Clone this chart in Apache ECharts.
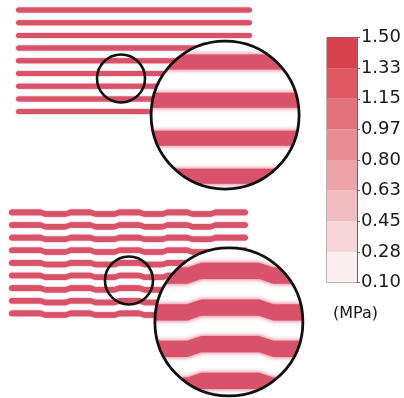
<!DOCTYPE html>
<html><head><meta charset="utf-8">
<script src="https://cdn.jsdelivr.net/npm/echarts@6/dist/echarts.min.js"></script>
<style>html,body{margin:0;padding:0;background:#fff}#c{width:404px;height:398px}</style>
</head><body><div id="c"></div>
<script>
// ---------------- data ----------------
// straight filaments (top panel): row index, span along length (0-100 %)
const topRows = [0, 1, 2, 3, 4, 5, 6, 7, 8];
const topSpan = [0, 100];
// segmented filaments (bottom panel)
const bottomRows = [0, 1, 2, 3, 4, 5, 6, 7, 8];
const bottomBreaks = [0, 14.2, 24.7, 35.1, 45.2, 55.6, 65.3, 75.7, 85.4, 100];
const bottomShift = [-0.07, 0.06, -0.07, 0.06, -0.07, 0.06, -0.07, 0.06, -0.07];
// magnifier: source centre, target centre (data units), zoom factor
const topLensSrc = [44.5, 5.39];
const topLensDst = [88.6, 8.27];
const topLensZoom = 3.0;
const bottomLensSrc = [50.2, 5.32];
const bottomLensDst = [92.0, 8.6];
const bottomLensZoom = 2.9;
// colour scale
const scaleTicks = ['0.10', '0.28', '0.45', '0.63', '0.80', '0.97', '1.15', '1.33', '1.50'];
const scaleColors = ['#fcefef', '#f7d6d9', '#f1bdc1', '#eca4aa', '#e88b93', '#e3717b', '#de5964', '#d8424d'];

// ---------------- styles ----------------
const STRIPE = '#d8536a';
const T_TOP = 5, T_BOT = 5.6;
const R_SMALL = 24, R_BIG = 74;
const JOINT = 2.4; // px half-width of the transition between segments

function cap(cx, cy, h, from, to) {
  const pts = [];
  for (let s = 0; s <= 8; s++) {
    const t = (from + (to - from) * s / 8) * Math.PI / 180;
    pts.push([cx + h * Math.cos(t), cy + h * Math.sin(t)]);
  }
  return pts;
}
// centre-line nodes [[x, y], ...] -> outline polygon with round caps
function outline(nodes, h) {
  const n = nodes.length;
  const topPts = nodes.map(p => [p[0], p[1] - h]);
  const botPts = nodes.map(p => [p[0], p[1] + h]).reverse();
  return topPts.concat(cap(nodes[n - 1][0], nodes[n - 1][1], h, -90, 90), botPts, cap(nodes[0][0], nodes[0][1], h, 90, 270));
}
function topPoly(api, r) {
  const p0 = api.coord([topSpan[0], r]), p1 = api.coord([topSpan[1], r]);
  const h = T_TOP / 2;
  return outline([[p0[0] + h, p0[1]], [p1[0] - h, p1[1]]], h);
}
function bottomPoly(api, r) {
  const h = T_BOT / 2, n = bottomBreaks.length - 1;
  const nodes = [];
  for (let i = 0; i < n; i++) {
    const a = api.coord([bottomBreaks[i], r + bottomShift[i]]);
    const b = api.coord([bottomBreaks[i + 1], r + bottomShift[i]]);
    nodes.push([i === 0 ? a[0] + h : a[0] + JOINT, a[1]]);
    nodes.push([i === n - 1 ? b[0] - h : b[0] - JOINT, b[1]]);
  }
  return outline(nodes, h);
}
function stripeEl(points, blur) {
  return {type: 'polygon', shape: {points: points}, style: {fill: STRIPE, shadowBlur: blur, shadowColor: STRIPE}};
}
function lensGroup(api, src, dst, k, polys) {
  const S = api.coord(src), D = api.coord(dst);
  const kids = polys.map(pts => stripeEl(pts.map(p => [D[0] + (p[0] - S[0]) * k, D[1] + (p[1] - S[1]) * k]), 5));
  return {
    type: 'group',
    children: [
      {type: 'circle', shape: {cx: S[0], cy: S[1], r: R_SMALL}, style: {fill: 'none', stroke: '#111', lineWidth: 2.6}},
      {type: 'circle', shape: {cx: D[0], cy: D[1], r: R_BIG}, style: {fill: '#fff'}},
      {type: 'group', children: kids, clipPath: {type: 'circle', shape: {cx: D[0], cy: D[1], r: R_BIG}}},
      {type: 'circle', shape: {cx: D[0], cy: D[1], r: R_BIG}, style: {fill: 'none', stroke: '#111', lineWidth: 2.8}}
    ]
  };
}

const chart = echarts.init(document.getElementById('c'), null, {renderer: 'canvas'});
const hiddenX = {type: 'value', min: 0, max: 100, show: false};
const hiddenY = {type: 'value', min: 0, max: 8, inverse: true, show: false};

chart.setOption({
  animation: false,
  backgroundColor: '#fff',
  grid: [
    {left: 16, top: 10, width: 236, height: 101.6},
    {left: 9, top: 213.3, width: 239, height: 101},
    {left: 327, top: 37.5, width: 30, height: 245, show: true, borderColor: '#6a6a6a', borderWidth: 1, backgroundColor: 'transparent'}
  ],
  xAxis: [
    Object.assign({gridIndex: 0}, hiddenX),
    Object.assign({gridIndex: 1}, hiddenX),
    {gridIndex: 2, type: 'category', data: [''], show: false}
  ],
  yAxis: [
    Object.assign({gridIndex: 0}, hiddenY),
    Object.assign({gridIndex: 1}, hiddenY),
    {
      gridIndex: 2, type: 'value', min: 0, max: 8, interval: 1, position: 'right',
      name: '(MPa)', nameLocation: 'start', nameGap: 31,
      nameTextStyle: {fontFamily: 'DejaVu Sans', fontSize: 16, color: '#1a1a1a', align: 'center', verticalAlign: 'middle', padding: [0, 3, 0, 0]},
      axisLine: {show: true, lineStyle: {color: '#6a6a6a', width: 1}},
      axisTick: {show: true, inside: false, length: 3, lineStyle: {color: '#6a6a6a'}},
      splitLine: {show: false},
      axisLabel: {margin: 4, fontFamily: 'DejaVu Sans', fontSize: 18, color: '#1a1a1a', formatter: v => scaleTicks[v]}
    }
  ],
  series: [
    {
      type: 'custom', xAxisIndex: 0, yAxisIndex: 0, clip: false, z: 1,
      data: topRows.map(r => [r]),
      renderItem: (params, api) => stripeEl(topPoly(api, api.value(0)), 1.5)
    },
    {
      type: 'custom', xAxisIndex: 1, yAxisIndex: 1, clip: false, z: 1,
      data: bottomRows.map(r => [r]),
      renderItem: (params, api) => stripeEl(bottomPoly(api, api.value(0)), 1.5)
    },
    {
      type: 'custom', xAxisIndex: 0, yAxisIndex: 0, clip: false, z: 3,
      data: [[0]],
      renderItem: (params, api) => lensGroup(api, topLensSrc, topLensDst, topLensZoom, topRows.map(r => topPoly(api, r)))
    },
    {
      type: 'custom', xAxisIndex: 1, yAxisIndex: 1, clip: false, z: 3,
      data: [[0]],
      renderItem: (params, api) => lensGroup(api, bottomLensSrc, bottomLensDst, bottomLensZoom, bottomRows.map(r => bottomPoly(api, r)))
    }
  ].concat(scaleColors.map(c => ({
    type: 'bar', xAxisIndex: 2, yAxisIndex: 2, stack: 'scale', barWidth: '100%',
    data: [1], itemStyle: {color: c}, silent: true
  })))
});
</script>
</body></html>
